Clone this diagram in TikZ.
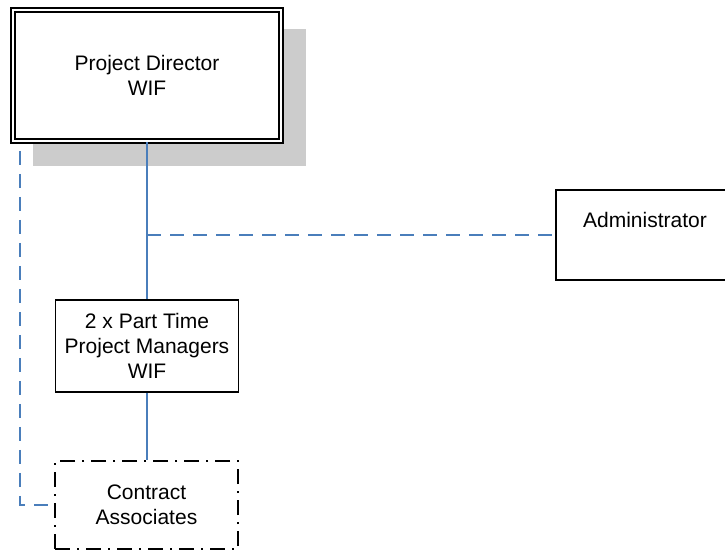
\documentclass[tikz,border=0pt]{standalone}
\usepackage{fontspec}
\setmainfont{Liberation Sans}
\definecolor{linkblue}{RGB}{74,126,187}
\definecolor{shadowgray}{RGB}{204,204,204}
\tikzset{
  box/.style={draw=black, line width=1.6pt, fill=white, align=center, inner sep=0pt},
  headbox/.style={box, line width=1.5pt, double=white, double distance=2.2pt},
  dashdotbox/.style={box, dash pattern=on 15pt off 7pt on 2pt off 7pt},
  solidlink/.style={draw=linkblue, line width=2pt},
  dashlink/.style={draw=linkblue, line width=2pt, dash pattern=on 14pt off 9pt}
}
\begin{document}
\begin{tikzpicture}[x=1pt, y=-1pt, font=\fontsize{21}{25}\selectfont]
  \useasboundingbox (0,0) rectangle (725,552);

  % drop shadow behind the director box
  \fill[shadowgray] (33,29) rectangle (306,166);

  % boxes
  \node[headbox, minimum width=268pt, minimum height=131pt] (dir) at (147,75.5)
    {Project Director\\WIF};
  \node[box, minimum width=183pt, minimum height=92pt] (ptm) at (147,346)
    {2 x Part Time\\Project Managers\\WIF};
  \node[dashdotbox, minimum width=183pt, minimum height=88pt] (ca) at (146.5,505)
    {Contract\\Associates};
  \node[box, minimum width=176pt, minimum height=90pt, anchor=north west] (adm) at (555,189) {};
  \node (admtxt) at (645,220) {Administrator};

  % reporting lines
  \draw[solidlink] (dir.south) -- (ptm.north);
  \draw[solidlink] (ptm.south) -- (ca.north -| ptm.south);
  \draw[dashlink] (dir.south |- adm.west) -- (adm.west);
  \draw[dashlink, dash phase=14pt] ([xshift=8pt]dir.south west) |- (ca.west);
\end{tikzpicture}
\end{document}
